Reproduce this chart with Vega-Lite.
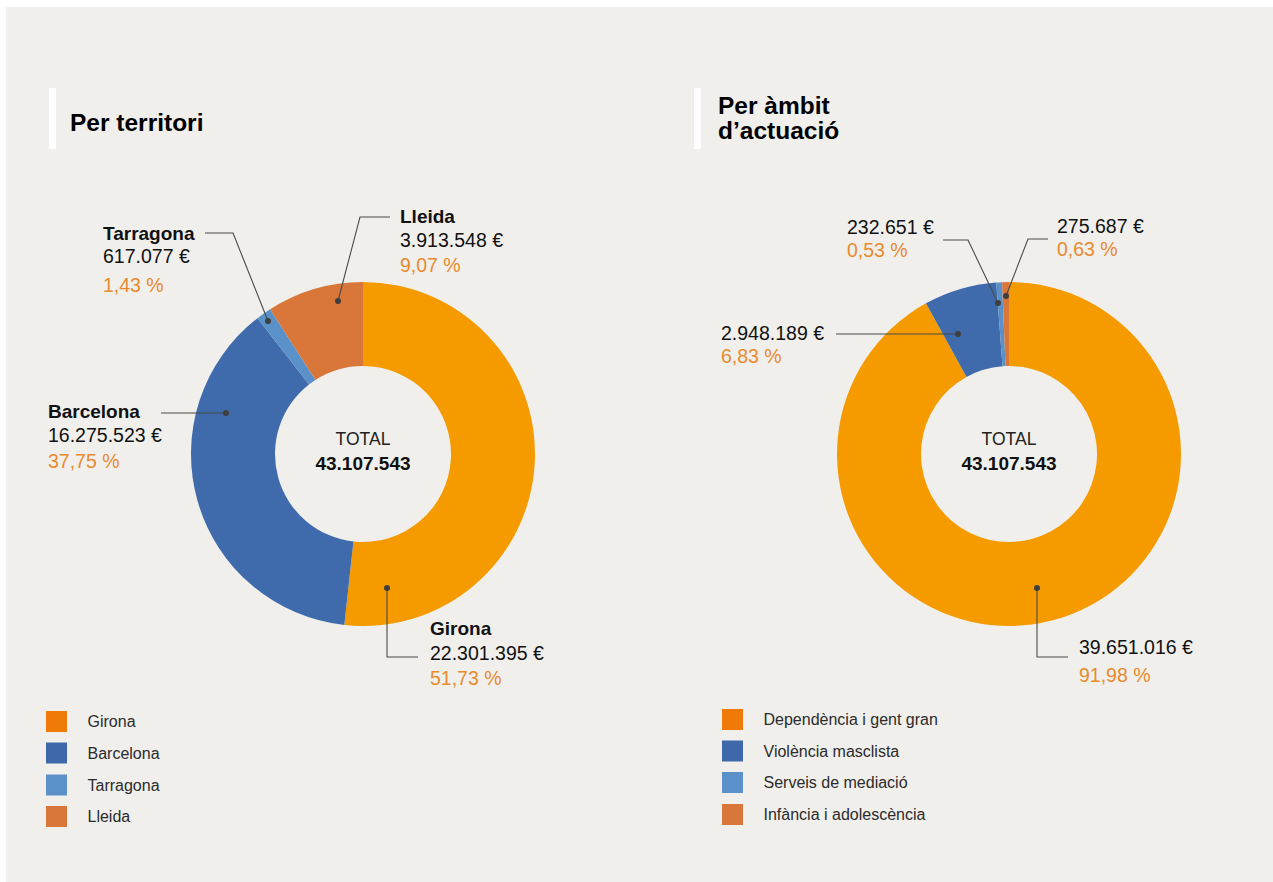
{
  "$schema": "https://vega.github.io/schema/vega-lite/v6.json",
  "width": 1273,
  "height": 882,
  "autosize": {"type": "fit", "contains": "padding"},
  "padding": {"left": 6, "top": 7, "right": 0, "bottom": 0},
  "background": "#ffffff",
  "config": {"view": {"fill": "#f0efec", "stroke": null}, "font": "Liberation Sans"},
  "datasets": {
    "territori": [
      {"name": "Girona", "amount": 22301395, "rank": 1},
      {"name": "Barcelona", "amount": 16275523, "rank": 2},
      {"name": "Tarragona", "amount": 617077, "rank": 3},
      {"name": "Lleida", "amount": 3913548, "rank": 4}
    ],
    "ambit": [
      {"name": "Dependència i gent gran", "amount": 39651016, "rank": 1},
      {"name": "Violència masclista", "amount": 2948189, "rank": 2},
      {"name": "Serveis de mediació", "amount": 232651, "rank": 3},
      {"name": "Infància i adolescència", "amount": 275687, "rank": 4}
    ],
    "legend": [
      {"panel": "territori", "name": "Girona", "x": 56.5, "y": 721.5},
      {"panel": "territori", "name": "Barcelona", "x": 56.5, "y": 753},
      {"panel": "territori", "name": "Tarragona", "x": 56.5, "y": 785},
      {"panel": "territori", "name": "Lleida", "x": 56.5, "y": 816.5},
      {"panel": "ambit", "name": "Dependència i gent gran", "x": 732.5, "y": 719.5},
      {"panel": "ambit", "name": "Violència masclista", "x": 732.5, "y": 751},
      {"panel": "ambit", "name": "Serveis de mediació", "x": 732.5, "y": 782.5},
      {"panel": "ambit", "name": "Infància i adolescència", "x": 732.5, "y": 814.5}
    ],
    "leaders": [
      {"id": "Lleida", "i": 1, "x": 390, "y": 217},
      {"id": "Lleida", "i": 2, "x": 360, "y": 217},
      {"id": "Lleida", "i": 3, "x": 338, "y": 301},
      {"id": "Tarragona", "i": 1, "x": 205, "y": 233},
      {"id": "Tarragona", "i": 2, "x": 233, "y": 233},
      {"id": "Tarragona", "i": 3, "x": 268, "y": 321},
      {"id": "Barcelona", "i": 1, "x": 161, "y": 413},
      {"id": "Barcelona", "i": 2, "x": 226, "y": 413},
      {"id": "Girona", "i": 1, "x": 387, "y": 588},
      {"id": "Girona", "i": 2, "x": 387, "y": 657},
      {"id": "Girona", "i": 3, "x": 418, "y": 657},
      {"id": "Serveis", "i": 1, "x": 943, "y": 240},
      {"id": "Serveis", "i": 2, "x": 968, "y": 240},
      {"id": "Serveis", "i": 3, "x": 998, "y": 303},
      {"id": "Infancia", "i": 1, "x": 1048, "y": 239},
      {"id": "Infancia", "i": 2, "x": 1028, "y": 239},
      {"id": "Infancia", "i": 3, "x": 1006, "y": 296},
      {"id": "Violencia", "i": 1, "x": 836, "y": 334},
      {"id": "Violencia", "i": 2, "x": 958, "y": 334},
      {"id": "Dependencia", "i": 1, "x": 1037, "y": 588},
      {"id": "Dependencia", "i": 2, "x": 1037, "y": 657},
      {"id": "Dependencia", "i": 3, "x": 1068, "y": 657}
    ],
    "dots": [
      {"id": "Lleida", "x": 338, "y": 301},
      {"id": "Tarragona", "x": 268, "y": 321},
      {"id": "Barcelona", "x": 226, "y": 413},
      {"id": "Girona", "x": 387, "y": 588},
      {"id": "Serveis", "x": 998, "y": 303},
      {"id": "Infancia", "x": 1006, "y": 296},
      {"id": "Violencia", "x": 958, "y": 334},
      {"id": "Dependencia", "x": 1037, "y": 588}
    ],
    "bars": [
      {"x": 52.5, "y": 88, "y2": 149},
      {"x": 697.5, "y": 88, "y2": 149}
    ],
    "labels": [
      {"kind": "title", "text": "Per territori", "x": 70, "y": 131},
      {"kind": "title", "text": "Per àmbit", "x": 718, "y": 114},
      {"kind": "title", "text": "d’actuació", "x": 718, "y": 139},
      {"kind": "name", "text": "Tarragona", "x": 103, "y": 240},
      {"kind": "name", "text": "Lleida", "x": 400, "y": 223},
      {"kind": "name", "text": "Barcelona", "x": 48, "y": 418},
      {"kind": "name", "text": "Girona", "x": 430, "y": 635},
      {"kind": "value", "text": "617.077 €", "x": 103, "y": 263},
      {"kind": "value", "text": "3.913.548 €", "x": 400, "y": 247},
      {"kind": "value", "text": "16.275.523 €", "x": 48, "y": 442},
      {"kind": "value", "text": "22.301.395 €", "x": 430, "y": 660},
      {"kind": "value", "text": "232.651 €", "x": 847, "y": 234},
      {"kind": "value", "text": "275.687 €", "x": 1057, "y": 233},
      {"kind": "value", "text": "2.948.189 €", "x": 721, "y": 340},
      {"kind": "value", "text": "39.651.016 €", "x": 1079, "y": 654},
      {"kind": "pct", "text": "1,43 %", "x": 103, "y": 292},
      {"kind": "pct", "text": "9,07 %", "x": 400, "y": 272},
      {"kind": "pct", "text": "37,75 %", "x": 48, "y": 468},
      {"kind": "pct", "text": "51,73 %", "x": 430, "y": 685},
      {"kind": "pct", "text": "0,53 %", "x": 847, "y": 257},
      {"kind": "pct", "text": "0,63 %", "x": 1057, "y": 256},
      {"kind": "pct", "text": "6,83 %", "x": 721, "y": 363},
      {"kind": "pct", "text": "91,98 %", "x": 1079, "y": 682},
      {"kind": "centerlabel", "text": "TOTAL", "x": 363, "y": 445},
      {"kind": "centerlabel", "text": "TOTAL", "x": 1009, "y": 445},
      {"kind": "centertotal", "text": "43.107.543", "x": 363, "y": 470},
      {"kind": "centertotal", "text": "43.107.543", "x": 1009, "y": 470}
    ]
  },
  "resolve": {"scale": {"color": "independent", "theta": "independent"}},
  "layer": [
    {
      "data": {"name": "territori"},
      "mark": {"type": "arc", "radius": 172, "radius2": 88},
      "encoding": {
        "x": {"datum": 363, "type": "quantitative", "scale": {"domain": [6, 1273], "nice": false, "zero": false}, "axis": null},
        "y": {"datum": 454, "type": "quantitative", "scale": {"domain": [7, 882], "nice": false, "zero": false, "reverse": true}, "axis": null},
        "theta": {"field": "amount", "type": "quantitative", "stack": true},
        "order": {"field": "rank", "type": "quantitative"},
        "color": {"field": "name", "type": "nominal", "legend": null,
          "scale": {"domain": ["Girona", "Barcelona", "Tarragona", "Lleida"], "range": ["#f59b00", "#3f6aac", "#5a91c8", "#d9773b"]}}
      }
    },
    {
      "data": {"name": "ambit"},
      "mark": {"type": "arc", "radius": 172, "radius2": 88},
      "encoding": {
        "x": {"datum": 1009, "type": "quantitative", "scale": {"domain": [6, 1273], "nice": false, "zero": false}, "axis": null},
        "y": {"datum": 454, "type": "quantitative", "scale": {"domain": [7, 882], "nice": false, "zero": false, "reverse": true}, "axis": null},
        "theta": {"field": "amount", "type": "quantitative", "stack": true},
        "order": {"field": "rank", "type": "quantitative"},
        "color": {"field": "name", "type": "nominal", "legend": null,
          "scale": {"domain": ["Dependència i gent gran", "Violència masclista", "Serveis de mediació", "Infància i adolescència"], "range": ["#f59b00", "#3f6aac", "#5a91c8", "#d9773b"]}}
      }
    },
    {
      "data": {"name": "bars"},
      "mark": {"type": "rule", "color": "#ffffff", "strokeWidth": 7},
      "encoding": {
        "x": {"field": "x", "type": "quantitative"},
        "y": {"field": "y", "type": "quantitative"},
        "y2": {"field": "y2"}
      }
    },
    {
      "data": {"name": "leaders"},
      "mark": {"type": "line", "color": "#4a4a4a", "strokeWidth": 1.1, "interpolate": "linear"},
      "encoding": {
        "x": {"field": "x", "type": "quantitative"},
        "y": {"field": "y", "type": "quantitative"},
        "detail": {"field": "id", "type": "nominal"},
        "order": {"field": "i", "type": "quantitative"}
      }
    },
    {
      "data": {"name": "dots"},
      "mark": {"type": "point", "filled": true, "shape": "circle", "size": 36, "color": "#3f3f3f", "opacity": 1},
      "encoding": {
        "x": {"field": "x", "type": "quantitative"},
        "y": {"field": "y", "type": "quantitative"}
      }
    },
    {
      "data": {"name": "legend"},
      "transform": [{"filter": "datum.panel === 'territori'"}],
      "mark": {"type": "point", "filled": true, "shape": "square", "size": 441, "opacity": 1},
      "encoding": {
        "x": {"field": "x", "type": "quantitative"},
        "y": {"field": "y", "type": "quantitative"},
        "color": {"field": "name", "type": "nominal", "legend": null,
          "scale": {"domain": ["Girona", "Barcelona", "Tarragona", "Lleida"], "range": ["#ef7a08", "#3f68ab", "#5b91c8", "#d9773b"]}}
      }
    },
    {
      "data": {"name": "legend"},
      "transform": [{"filter": "datum.panel === 'ambit'"}],
      "mark": {"type": "point", "filled": true, "shape": "square", "size": 441, "opacity": 1},
      "encoding": {
        "x": {"field": "x", "type": "quantitative"},
        "y": {"field": "y", "type": "quantitative"},
        "color": {"field": "name", "type": "nominal", "legend": null,
          "scale": {"domain": ["Dependència i gent gran", "Violència masclista", "Serveis de mediació", "Infància i adolescència"], "range": ["#ef7a08", "#3f68ab", "#5b91c8", "#d9773b"]}}
      }
    },
    {
      "data": {"name": "legend"},
      "mark": {"type": "text", "align": "left", "baseline": "alphabetic", "dx": 31, "dy": 5.5, "fontSize": 16, "color": "#2b2b2b"},
      "encoding": {
        "x": {"field": "x", "type": "quantitative"},
        "y": {"field": "y", "type": "quantitative"},
        "text": {"field": "name"}
      }
    },
    {
      "data": {"name": "labels"},
      "transform": [{"filter": "datum.kind === 'title'"}],
      "mark": {"type": "text", "align": "left", "baseline": "alphabetic", "fontSize": 24.5, "fontWeight": "bold", "color": "#000000"},
      "encoding": {
        "x": {"field": "x", "type": "quantitative"},
        "y": {"field": "y", "type": "quantitative"},
        "text": {"field": "text"}
      }
    },
    {
      "data": {"name": "labels"},
      "transform": [{"filter": "datum.kind === 'name'"}],
      "mark": {"type": "text", "align": "left", "baseline": "alphabetic", "fontSize": 19, "fontWeight": "bold", "color": "#111111"},
      "encoding": {
        "x": {"field": "x", "type": "quantitative"},
        "y": {"field": "y", "type": "quantitative"},
        "text": {"field": "text"}
      }
    },
    {
      "data": {"name": "labels"},
      "transform": [{"filter": "datum.kind === 'value'"}],
      "mark": {"type": "text", "align": "left", "baseline": "alphabetic", "fontSize": 19.5, "color": "#111111"},
      "encoding": {
        "x": {"field": "x", "type": "quantitative"},
        "y": {"field": "y", "type": "quantitative"},
        "text": {"field": "text"}
      }
    },
    {
      "data": {"name": "labels"},
      "transform": [{"filter": "datum.kind === 'pct'"}],
      "mark": {"type": "text", "align": "left", "baseline": "alphabetic", "fontSize": 19.5, "color": "#e88a2e"},
      "encoding": {
        "x": {"field": "x", "type": "quantitative"},
        "y": {"field": "y", "type": "quantitative"},
        "text": {"field": "text"}
      }
    },
    {
      "data": {"name": "labels"},
      "transform": [{"filter": "datum.kind === 'centerlabel'"}],
      "mark": {"type": "text", "align": "center", "baseline": "alphabetic", "fontSize": 17.5, "color": "#222222"},
      "encoding": {
        "x": {"field": "x", "type": "quantitative"},
        "y": {"field": "y", "type": "quantitative"},
        "text": {"field": "text"}
      }
    },
    {
      "data": {"name": "labels"},
      "transform": [{"filter": "datum.kind === 'centertotal'"}],
      "mark": {"type": "text", "align": "center", "baseline": "alphabetic", "fontSize": 19, "fontWeight": "bold", "color": "#111111"},
      "encoding": {
        "x": {"field": "x", "type": "quantitative"},
        "y": {"field": "y", "type": "quantitative"},
        "text": {"field": "text"}
      }
    }
  ]
}
